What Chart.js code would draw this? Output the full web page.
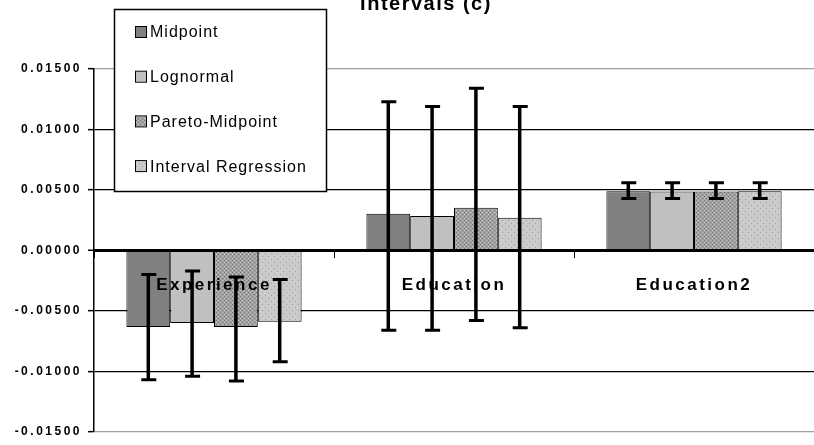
<!DOCTYPE html>
<html>
<head>
<meta charset="utf-8">
<script src="https://cdn.jsdelivr.net/npm/chart.js@4.4.0/dist/chart.umd.min.js"></script>
<style>
    html, body { margin: 0; padding: 0; background: #fff; }
    #wrap { width: 814px; height: 445px; overflow: hidden; }
</style>
</head>
<body>
<div id="wrap"><canvas id="chart" width="814" height="445"></canvas></div>
<script>
// values
const categories = ["Experience", "Education", "Education2"]
const seriesNames = ["Midpoint", "Lognormal", "Pareto-Midpoint", "Interval Regression"]

const midpoint = [-0.00634, 0.00303, 0.00490]
const lognormal = [-0.00600, 0.00284, 0.00488]
const paretoMidpoint = [-0.00634, 0.00352, 0.00488]
const intervalRegression = [-0.00590, 0.00270, 0.00490]

// error bar ends (low / high)
const midpointLow = [-0.0107, -0.0066, 0.0043]
const midpointHigh = [-0.0020, 0.0123, 0.0056]
const lognormalLow = [-0.0104, -0.0066, 0.0043]
const lognormalHigh = [-0.0017, 0.0119, 0.0056]
const paretoLow = [-0.0108, -0.0058, 0.0043]
const paretoHigh = [-0.0022, 0.0134, 0.0056]
const intervalLow = [-0.0092, -0.0064, 0.0043]
const intervalHigh = [-0.0024, 0.0119, 0.0056]

const yMin = -0.015
const yMax = 0.015
const yStep = 0.005

const titleText = "Intervals (c)"
const FONT = "'Liberation Sans', Arial, sans-serif"

const canvas = document.getElementById("chart")
const ctx = canvas.getContext("2d")

function makePattern(base, dots, size) {
    const tile = document.createElement("canvas")
    tile.width = size
    tile.height = size
    const g = tile.getContext("2d")
    g.fillStyle = base
    g.fillRect(0, 0, size, size)
    dots.forEach(([x, y, color]) => {
        g.fillStyle = color
        g.fillRect(x, y, 1, 1)
    })
    return ctx.createPattern(tile, "repeat")
}

const paretoFill = makePattern("#a2a2a2", [
    [0, 0, "#707070"], [2, 2, "#707070"], [2, 0, "#c6c6c6"], [0, 2, "#c6c6c6"],
], 4)
const intervalFill = makePattern("#cbcbcb", [
    [1, 1, "#9a9a9a"], [4, 4, "#9a9a9a"],
], 6)

const errorBars = {
    id: "errorBars",
    afterDraw(chart) {
        const c = chart.ctx
        const yScale = chart.scales.y
        c.save()
        c.strokeStyle = "#000"
        chart.data.datasets.forEach((ds, i) => {
            const meta = chart.getDatasetMeta(i)
            meta.data.forEach((bar, j) => {
                const top = yScale.getPixelForValue(ds.errHigh[j])
                const bottom = yScale.getPixelForValue(ds.errLow[j])
                c.lineWidth = 3.5
                c.beginPath()
                c.moveTo(bar.x, top)
                c.lineTo(bar.x, bottom)
                c.stroke()
                c.lineWidth = 3
                c.beginPath()
                c.moveTo(bar.x - 7, top)
                c.lineTo(bar.x + 8, top)
                c.moveTo(bar.x - 7, bottom)
                c.lineTo(bar.x + 8, bottom)
                c.stroke()
            })
        })
        c.restore()
    },
}

// floating legend box drawn over the plot, like the original
const boxLegend = {
    id: "boxLegend",
    afterDraw(chart) {
        const c = chart.ctx
        c.save()
        c.fillStyle = "#fff"
        c.fillRect(114, 9, 212, 182)
        c.strokeStyle = "#000"
        c.lineWidth = 1.5
        c.strokeRect(114.5, 9.5, 212, 182)
        c.font = "16px " + FONT
        c.letterSpacing = "1px"
        c.textBaseline = "middle"
        chart.data.datasets.forEach((ds, i) => {
            const cy = 32 + i * 44.7
            c.fillStyle = ds.backgroundColor
            c.fillRect(136, cy - 5, 10, 10)
            c.strokeStyle = "#000"
            c.lineWidth = 1
            c.strokeRect(135.5, cy - 5.5, 11, 11)
            c.fillStyle = "#000"
            c.fillText(ds.label, 150, cy + 1)
        })
        c.restore()
    },
}

const cutTitle = {
    id: "cutTitle",
    beforeDraw(chart) {
        chart.ctx.letterSpacing = "2.5px"
    },
    afterDraw(chart) {
        const c = chart.ctx
        c.save()
        c.font = "bold 20px " + FONT
        c.letterSpacing = "1.5px"
        c.fillStyle = "#000"
        c.textAlign = "center"
        c.textBaseline = "alphabetic"
        c.fillText(titleText, 426, 10)
        c.restore()
    },
}

const fills = ["#808080", "#c0c0c0", paretoFill, intervalFill]
const values = [midpoint, lognormal, paretoMidpoint, intervalRegression]
const lows = [midpointLow, lognormalLow, paretoLow, intervalLow]
const highs = [midpointHigh, lognormalHigh, paretoHigh, intervalHigh]

new Chart(canvas, {
    type: "bar",
    data: {
        labels: categories,
        datasets: seriesNames.map((name, i) => ({
            label: name,
            data: values[i],
            errLow: lows[i],
            errHigh: highs[i],
            backgroundColor: fills[i],
            borderColor: "#000",
            borderWidth: 1,
            categoryPercentage: 0.73,
            barPercentage: 1.0,
        })),
    },
    options: {
        responsive: false,
        animation: false,
        devicePixelRatio: 1,
        layout: { padding: { top: 69, bottom: 10, left: 0, right: -5 } },
        plugins: {
            legend: { display: false },
            tooltip: { enabled: false },
            title: { display: false },
        },
        scales: {
            x: {
                position: { y: 0 },
                grid: {
                    drawOnChartArea: false,
                    drawTicks: true,
                    tickLength: 6,
                    color: "#000",
                    lineWidth: 1,
                    z: 1,
                },
                border: { display: true, color: "#000", width: 3, z: 1 },
                ticks: {
                    z: 1,
                    color: "#000",
                    font: { family: FONT, size: 17, weight: "bold" },
                    padding: 19,
                    maxRotation: 0,
                },
            },
            y: {
                min: yMin,
                max: yMax,
                afterFit: (scale) => { scale.width = 94 },
                grid: {
                    color: (c) => Math.abs(c.tick.value) > yMax - 1e-9 ? "#a0a0a0" : "#000",
                    lineWidth: (c) => Math.abs(c.tick.value) < 1e-9 ? 2.5 : 1.3,
                    tickLength: 6,
                    tickColor: "#000",
                    tickWidth: 1.5,
                },
                border: { display: true, color: "#000", width: 1.5 },
                ticks: {
                    stepSize: yStep,
                    color: "#000",
                    padding: 6,
                    font: { family: FONT, size: 12, weight: "bold" },
                    callback: (v) => Number(v).toFixed(5),
                },
            },
        },
    },
    plugins: [cutTitle, errorBars, boxLegend],
})
</script>
</body>
</html>
